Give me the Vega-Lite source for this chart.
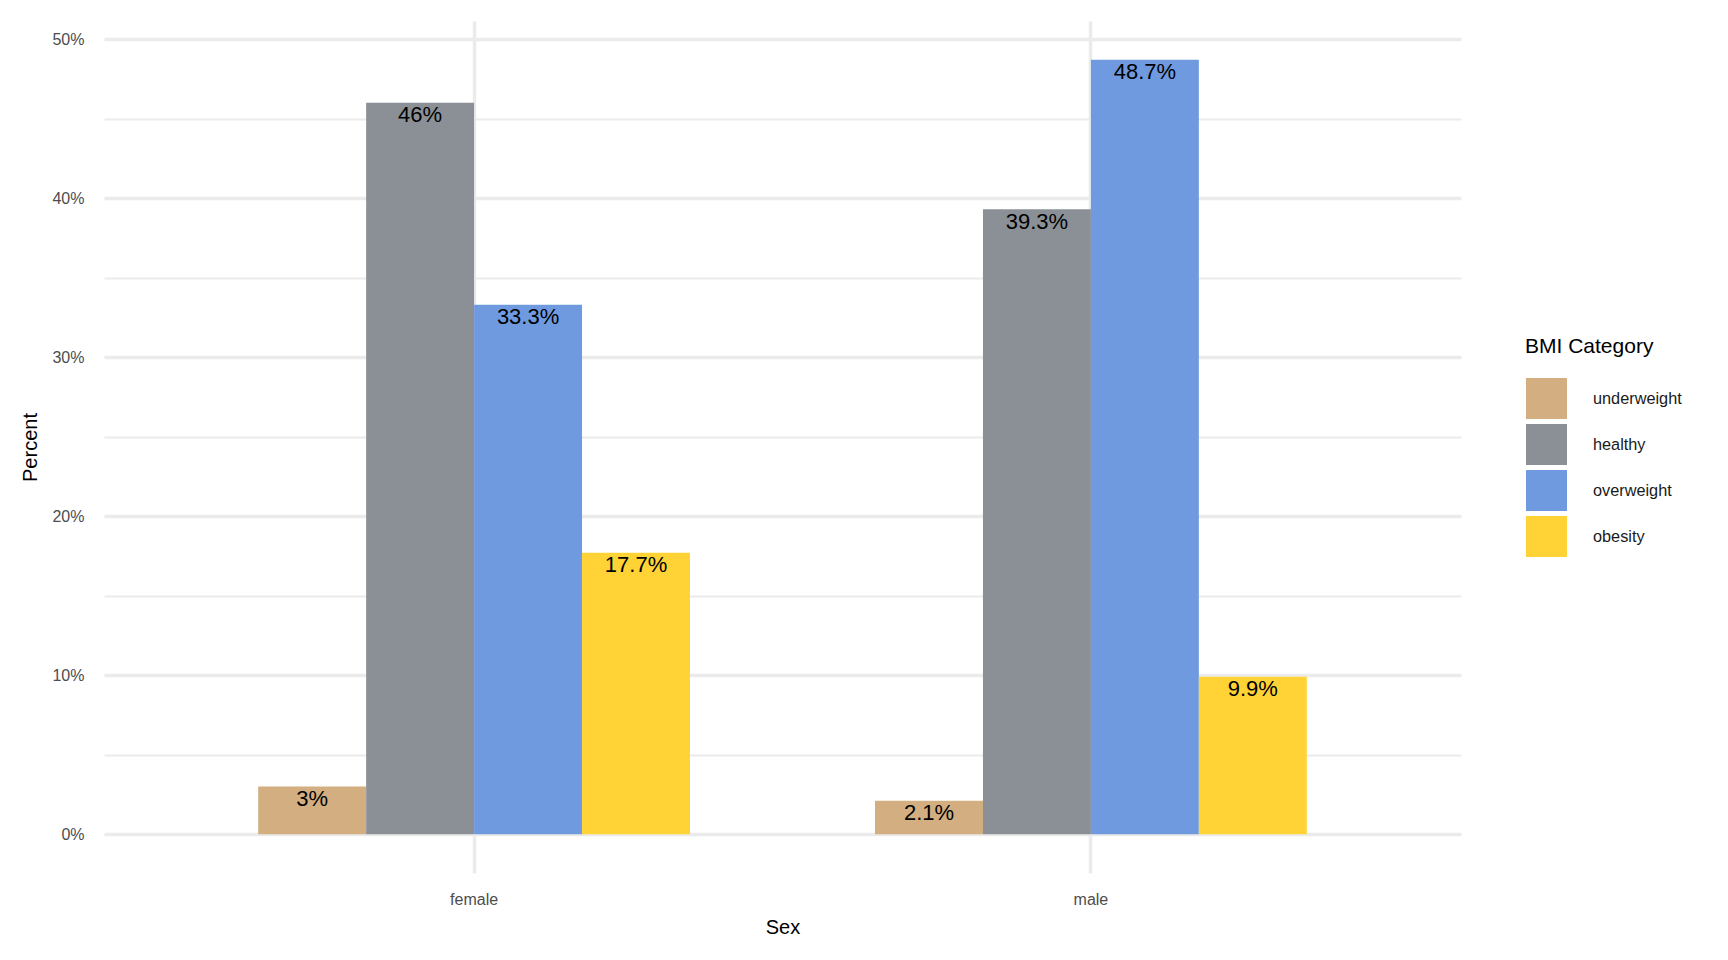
{
  "$schema": "https://vega.github.io/schema/vega-lite/v6.json",
  "description": "BMI category share by sex, grouped bars with percent labels.",
  "width": 1357,
  "height": 852,
  "autosize": {"type": "none"},
  "padding": {"left": 104, "top": 21, "right": 267, "bottom": 87},
  "background": "white",
  "config": {"view": {"stroke": null}, "font": "Liberation Sans"},
  "data": {
    "values": [
      {"Sex": "female", "Category": "underweight", "Percent": 0.03},
      {"Sex": "female", "Category": "healthy", "Percent": 0.46},
      {"Sex": "female", "Category": "overweight", "Percent": 0.333},
      {"Sex": "female", "Category": "obesity", "Percent": 0.177},
      {"Sex": "male", "Category": "underweight", "Percent": 0.021},
      {"Sex": "male", "Category": "healthy", "Percent": 0.393},
      {"Sex": "male", "Category": "overweight", "Percent": 0.487},
      {"Sex": "male", "Category": "obesity", "Percent": 0.099}
    ]
  },
  "encoding": {
    "x": {
      "field": "Sex",
      "type": "nominal",
      "scale": {"paddingInner": 0.3, "paddingOuter": 0.25},
      "axis": {
        "title": "Sex",
        "labelAngle": 0,
        "labelFontSize": 16,
        "labelColor": "#4D4D4D",
        "labelPadding": 31,
        "labelBaseline": "alphabetic",
        "ticks": false,
        "tickSize": 0,
        "domain": false,
        "grid": true,
        "gridColor": "#EBEBEB",
        "gridWidth": 3.5,
        "titleFontSize": 20,
        "titleFontWeight": "normal",
        "titleColor": "black",
        "titleY": 60,
        "titleBaseline": "alphabetic"
      }
    },
    "xOffset": {
      "field": "Category",
      "type": "nominal",
      "sort": ["underweight", "healthy", "overweight", "obesity"],
      "scale": {"paddingInner": 0, "paddingOuter": 0}
    },
    "y": {
      "field": "Percent",
      "type": "quantitative",
      "scale": {"domain": [-0.02435, 0.51135], "nice": false, "zero": false},
      "axis": {
        "title": "Percent",
        "values": [0, 0.05, 0.1, 0.15, 0.2, 0.25, 0.3, 0.35, 0.4, 0.45, 0.5],
        "format": ".0%",
        "labelExpr": "round(datum.value * 100) % 10 === 0 ? datum.label : ''",
        "labelFontSize": 16,
        "labelColor": "#4D4D4D",
        "labelPadding": 20,
        "ticks": false,
        "tickSize": 0,
        "domain": false,
        "grid": true,
        "gridColor": "#EBEBEB",
        "gridWidth": {
          "condition": {"test": "round(datum.value * 100) % 10 === 0", "value": 3.5},
          "value": 2
        },
        "titleFontSize": 20,
        "titleFontWeight": "normal",
        "titleColor": "black",
        "titleX": -68,
        "titleBaseline": "alphabetic"
      }
    }
  },
  "layer": [
    {
      "mark": {"type": "bar"},
      "encoding": {
        "color": {
          "field": "Category",
          "type": "nominal",
          "sort": ["underweight", "healthy", "overweight", "obesity"],
          "scale": {
            "domain": ["underweight", "healthy", "overweight", "obesity"],
            "range": ["#D2AE80", "#8A9096", "#6F9AE0", "#FFD336"]
          },
          "legend": {
            "title": "BMI Category",
            "orient": "none",
            "legendX": 1421,
            "legendY": 315,
            "titleFontSize": 21,
            "titleFontWeight": "normal",
            "titleColor": "black",
            "titlePadding": 21,
            "labelFontSize": 16.3,
            "labelColor": "#1A1A1A",
            "labelOffset": 26,
            "symbolOffset": 1,
            "symbolType": "square",
            "symbolSize": 1681,
            "symbolStrokeWidth": 0,
            "symbolOpacity": 1,
            "rowPadding": 5
          }
        }
      }
    },
    {
      "mark": {"type": "text", "baseline": "alphabetic", "dy": 19.5, "fontSize": 22, "color": "black"},
      "encoding": {
        "text": {"field": "Percent", "format": ".1~%"}
      }
    }
  ]
}
